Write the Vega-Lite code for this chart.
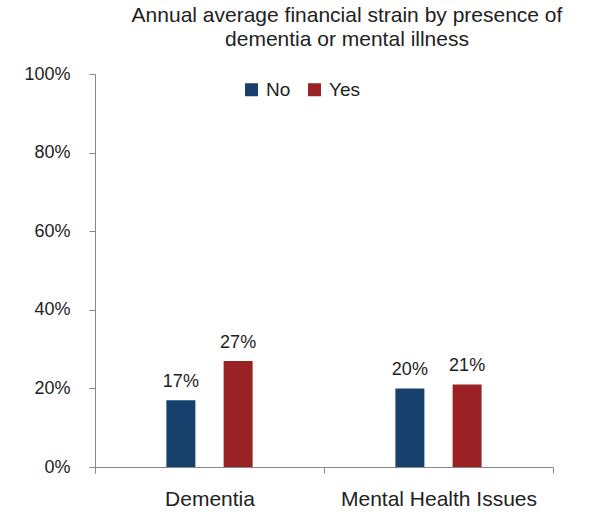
{
  "$schema": "https://vega.github.io/schema/vega-lite/v6.json",
  "autosize": "none",
  "width": 458,
  "height": 393,
  "padding": {"left": 95, "top": 74, "right": 36, "bottom": 45},
  "background": "white",
  "view": {"stroke": null},
  "title": {
    "text": ["Annual average financial strain by presence of", "dementia or mental illness"],
    "font": "Liberation Sans",
    "fontSize": 21,
    "fontWeight": "normal",
    "color": "#222222",
    "anchor": "middle",
    "dx": 23,
    "offset": 15,
    "lineHeight": 24
  },
  "data": {
    "values": [
      {"condition": "Dementia", "group": "No", "value": 0.17},
      {"condition": "Dementia", "group": "Yes", "value": 0.27},
      {"condition": "Mental Health Issues", "group": "No", "value": 0.20},
      {"condition": "Mental Health Issues", "group": "Yes", "value": 0.21}
    ]
  },
  "encoding": {
    "x": {
      "field": "condition",
      "type": "nominal",
      "sort": null,
      "title": null,
      "scale": {"paddingInner": 0, "paddingOuter": 0},
      "axis": {
        "labelAngle": 0,
        "labelLimit": 0,
        "tickBand": "extent",
        "tickSize": 6,
        "labelPadding": 15,
        "labelFont": "Liberation Sans",
        "labelFontSize": 21,
        "labelColor": "#222222",
        "domainColor": "#888888",
        "tickColor": "#888888"
      }
    },
    "xOffset": {
      "field": "group",
      "type": "nominal",
      "scale": {"paddingInner": 0, "paddingOuter": 1}
    },
    "y": {
      "field": "value",
      "type": "quantitative",
      "title": null,
      "scale": {"domain": [0, 1]},
      "axis": {
        "values": [0, 0.2, 0.4, 0.6, 0.8, 1],
        "format": ".0%",
        "grid": false,
        "tickSize": 6,
        "labelPadding": 19,
        "labelFont": "Liberation Sans",
        "labelFontSize": 18,
        "labelColor": "#222222",
        "domainColor": "#888888",
        "tickColor": "#888888"
      }
    }
  },
  "layer": [
    {
      "mark": {"type": "bar", "width": 29},
      "encoding": {
        "color": {
          "field": "group",
          "type": "nominal",
          "scale": {"domain": ["No", "Yes"], "range": ["#17406D", "#9B2224"]},
          "legend": {
            "title": null,
            "orient": "none",
            "direction": "horizontal",
            "legendX": 147,
            "legendY": 6,
            "symbolType": "square",
            "symbolSize": 169,
            "symbolStrokeWidth": 0,
            "labelFont": "Liberation Sans",
            "labelFontSize": 19,
            "labelColor": "#222222",
            "labelOffset": 5,
            "columnPadding": 14
          }
        }
      }
    },
    {
      "mark": {
        "type": "text",
        "baseline": "bottom",
        "dy": -9,
        "font": "Liberation Sans",
        "fontSize": 18,
        "color": "#222222"
      },
      "encoding": {
        "text": {"field": "value", "type": "quantitative", "format": ".0%"}
      }
    }
  ]
}
